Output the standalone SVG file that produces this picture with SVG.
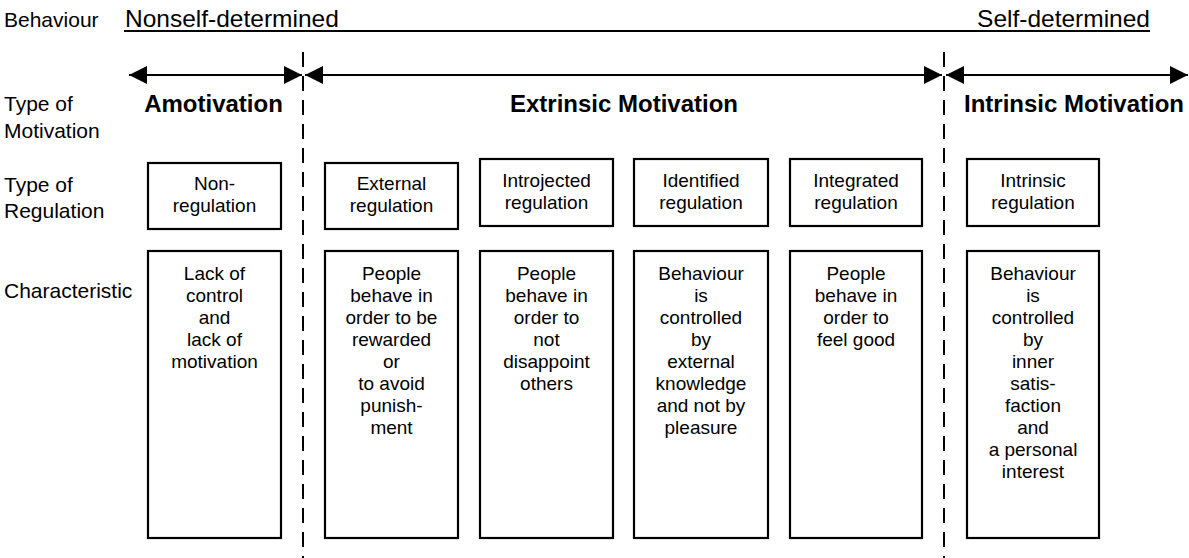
<svg xmlns="http://www.w3.org/2000/svg" width="1189" height="558" viewBox="0 0 1189 558">
<defs>
<style>
text{font-family:"Liberation Sans",Arial,sans-serif;fill:#000}
.lbl{font-size:21px}
.hdr{font-size:24.5px}
.ttl{font-size:24px;font-weight:bold}
.bx{font-size:19px;text-anchor:middle}
rect{fill:#fff;stroke:#000;stroke-width:2.2}
.dash{stroke:#000;stroke-width:2;stroke-dasharray:15 9;fill:none}
.arr{stroke:#000;stroke-width:2;fill:none;marker-start:url(#ah);marker-end:url(#ah)}
</style>
<marker id="ah" markerUnits="userSpaceOnUse" markerWidth="18" markerHeight="18" refX="18" refY="9" orient="auto-start-reverse" viewBox="0 0 18 18">
<path d="M0,0 L18,9 L0,18 z" fill="#000"/>
</marker>
</defs>

<g id="header">
<text class="lbl" x="4" y="27">Behaviour</text>
<text class="hdr" x="125" y="27">Nonself-determined</text>
<text class="hdr" x="1150" y="27" text-anchor="end">Self-determined</text>
<line x1="124" y1="31" x2="1150" y2="31" stroke="#000" stroke-width="2"/>
</g>

<g id="row-labels">
<text class="lbl" x="4" y="111">Type of</text>
<text class="lbl" x="4" y="138">Motivation</text>
<text class="lbl" x="4" y="192">Type of</text>
<text class="lbl" x="4" y="218">Regulation</text>
<text class="lbl" x="4" y="298">Characteristic</text>
</g>

<g id="dividers">
<line class="dash" x1="303" y1="52" x2="303" y2="558"/>
<line class="dash" x1="944" y1="52" x2="944" y2="558"/>
</g>

<g id="connectors">
<line class="arr" x1="129" y1="75" x2="302" y2="75"/>
<line class="arr" x1="305" y1="75" x2="942" y2="75"/>
<line class="arr" x1="946" y1="75" x2="1188" y2="75"/>
</g>

<g id="titles">
<text class="ttl" x="213.5" y="112" text-anchor="middle">Amotivation</text>
<text class="ttl" x="624" y="112" text-anchor="middle">Extrinsic Motivation</text>
<text class="ttl" x="964" y="112">Intrinsic Motivation</text>
</g>

<g id="reg-non">
<rect x="148" y="163" width="133" height="66"/>
<text class="bx" x="214.5" y="190">Non-</text>
<text class="bx" x="214.5" y="212">regulation</text>
</g>
<g id="reg-external">
<rect x="325" y="163" width="133" height="66"/>
<text class="bx" x="391.5" y="190">External</text>
<text class="bx" x="391.5" y="212">regulation</text>
</g>
<g id="reg-introjected">
<rect x="480" y="159" width="133" height="67"/>
<text class="bx" x="546.5" y="187">Introjected</text>
<text class="bx" x="546.5" y="209">regulation</text>
</g>
<g id="reg-identified">
<rect x="634" y="159" width="134" height="67"/>
<text class="bx" x="701" y="187">Identified</text>
<text class="bx" x="701" y="209">regulation</text>
</g>
<g id="reg-integrated">
<rect x="790" y="159" width="132" height="67"/>
<text class="bx" x="856" y="187">Integrated</text>
<text class="bx" x="856" y="209">regulation</text>
</g>
<g id="reg-intrinsic">
<rect x="967" y="159" width="132" height="67"/>
<text class="bx" x="1033" y="187">Intrinsic</text>
<text class="bx" x="1033" y="209">regulation</text>
</g>

<g id="char-amotivation">
<rect x="148" y="251" width="133" height="287"/>
<text class="bx" x="214.5" y="279.5">Lack of</text>
<text class="bx" x="214.5" y="301.5">control</text>
<text class="bx" x="214.5" y="323.5">and</text>
<text class="bx" x="214.5" y="345.5">lack of</text>
<text class="bx" x="214.5" y="367.5">motivation</text>
</g>
<g id="char-external">
<rect x="325" y="251" width="133" height="287"/>
<text class="bx" x="391.5" y="279.5">People</text>
<text class="bx" x="391.5" y="301.5">behave in</text>
<text class="bx" x="391.5" y="323.5">order to be</text>
<text class="bx" x="391.5" y="345.5">rewarded</text>
<text class="bx" x="391.5" y="367.5">or</text>
<text class="bx" x="391.5" y="389.5">to avoid</text>
<text class="bx" x="391.5" y="411.5">punish-</text>
<text class="bx" x="391.5" y="433.5">ment</text>
</g>
<g id="char-introjected">
<rect x="480" y="251" width="133" height="287"/>
<text class="bx" x="546.5" y="279.5">People</text>
<text class="bx" x="546.5" y="301.5">behave in</text>
<text class="bx" x="546.5" y="323.5">order to</text>
<text class="bx" x="546.5" y="345.5">not</text>
<text class="bx" x="546.5" y="367.5">disappoint</text>
<text class="bx" x="546.5" y="389.5">others</text>
</g>
<g id="char-identified">
<rect x="634" y="251" width="134" height="287"/>
<text class="bx" x="701" y="279.5">Behaviour</text>
<text class="bx" x="701" y="301.5">is</text>
<text class="bx" x="701" y="323.5">controlled</text>
<text class="bx" x="701" y="345.5">by</text>
<text class="bx" x="701" y="367.5">external</text>
<text class="bx" x="701" y="389.5">knowledge</text>
<text class="bx" x="701" y="411.5">and not by</text>
<text class="bx" x="701" y="433.5">pleasure</text>
</g>
<g id="char-integrated">
<rect x="790" y="251" width="132" height="287"/>
<text class="bx" x="856" y="279.5">People</text>
<text class="bx" x="856" y="301.5">behave in</text>
<text class="bx" x="856" y="323.5">order to</text>
<text class="bx" x="856" y="345.5">feel good</text>
</g>
<g id="char-intrinsic">
<rect x="967" y="251" width="132" height="287"/>
<text class="bx" x="1033" y="279.5">Behaviour</text>
<text class="bx" x="1033" y="301.5">is</text>
<text class="bx" x="1033" y="323.5">controlled</text>
<text class="bx" x="1033" y="345.5">by</text>
<text class="bx" x="1033" y="367.5">inner</text>
<text class="bx" x="1033" y="389.5">satis-</text>
<text class="bx" x="1033" y="411.5">faction</text>
<text class="bx" x="1033" y="433.5">and</text>
<text class="bx" x="1033" y="455.5">a personal</text>
<text class="bx" x="1033" y="477.5">interest</text>
</g>
</svg>
